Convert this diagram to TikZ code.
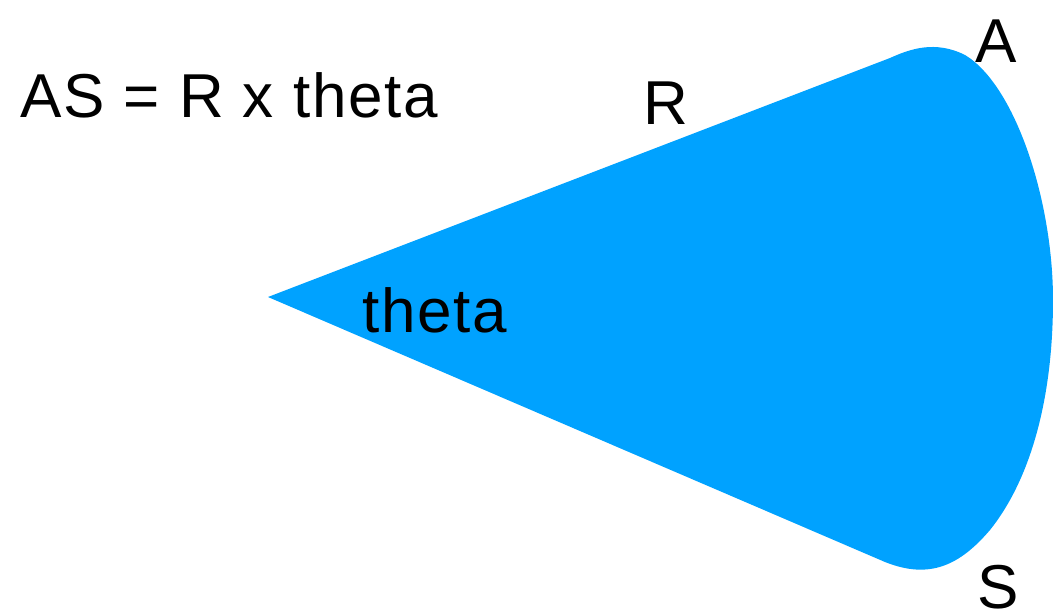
\documentclass[tikz,border=0pt]{standalone}
\usepackage{fontspec}
\setmainfont{Liberation Sans}[LetterSpace=3]
\definecolor{sectorblue}{RGB}{0,162,255}
\begin{document}
\begin{tikzpicture}[x=1pt,y=-1pt,
  lbl/.style={anchor=base west,inner sep=0pt,font=\fontsize{62}{62}\selectfont,text=black}]
\useasboundingbox (0,0) rectangle (1053,613);
\fill[sectorblue] (268,297) -- (890,58)
  .. controls (910,49) and (935,40) .. (965,55)
  .. controls (1015,85) and (1053,200) .. (1053,300)
  .. controls (1053,400) and (1030,480) .. (990,530)
  .. controls (960,565) and (930,580) .. (885,562) -- cycle;
\node[lbl] (formula) at (20,117) {AS = R x theta};
\node[lbl] (rlabel) at (643,124) {R};
\node[lbl] (thetalabel) at (362,332) {theta};
\node[lbl] (alabel) at (975,62) {A};
\node[lbl] (slabel) at (977,608) {S};
\end{tikzpicture}
\end{document}
